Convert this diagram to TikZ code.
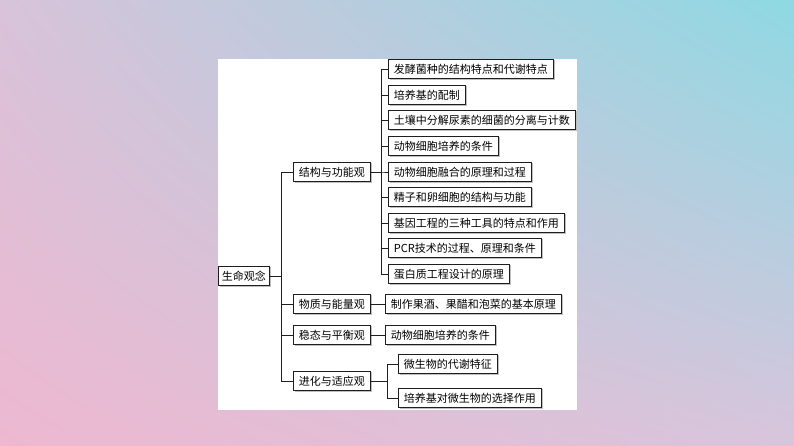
\documentclass[tikz,border=0pt]{standalone}
\usepackage{fontspec}
\setmainfont{Noto Sans CJK SC}
\usepackage{tikz}
\usetikzlibrary{positioning, shadows, shadings}
\definecolor{bgtl}{RGB}{216, 195, 218}
\definecolor{bgtr}{RGB}{142, 217, 227}
\definecolor{bgbl}{RGB}{237, 184, 208}
\definecolor{bgbr}{RGB}{216, 197, 220}
\definecolor{linecol}{RGB}{30, 30, 30}

\begin{document}
\begin{tikzpicture}[
    x=1pt, y=-1pt,
    box/.style={rectangle, draw=linecol, fill=white, line width=0.9pt, minimum height=19.5pt, inner xsep=5.5pt, inner ysep=0pt, anchor=west, font=\fontsize{11}{12}\selectfont, drop shadow={shadow xshift=1.2pt, shadow yshift=-1.2pt, fill=black!25, opacity=1}},
    rootbox/.style={box, inner xsep=3.5pt},
    topicbox/.style={box, minimum width=74pt},
    link/.style={line width=0.9pt, color=linecol}
]
    \useasboundingbox (0,0) rectangle (794,446);
    % Background
    \shade[upper left=bgtl, upper right=bgtr, lower left=bgbl, lower right=bgbr] (0,0) rectangle (794,446);
    \fill[white] (218,59) rectangle (577,410);

    % Root and topics
    \node[rootbox] (life) at (218,276) {生命观念};
    \node[topicbox] (struct) at (293,172) {结构与功能观};
    \node[topicbox] (energy) at (293,304) {物质与能量观};
    \node[topicbox] (steady) at (293,335) {稳态与平衡观};
    \node[topicbox] (evolve) at (293,381) {进化与适应观};

    % Structure and function
    \node[box] (s1) at (388,69) {发酵菌种的结构特点和代谢特点};
    \node[box] (s2) at (388,95) {培养基的配制};
    \node[box] (s3) at (388,120) {土壤中分解尿素的细菌的分离与计数};
    \node[box] (s4) at (388,146) {动物细胞培养的条件};
    \node[box] (s5) at (388,172) {动物细胞融合的原理和过程};
    \node[box] (s6) at (388,197) {精子和卵细胞的结构与功能};
    \node[box] (s7) at (388,223) {基因工程的三种工具的特点和作用};
    \node[box] (s8) at (388,248) {PCR技术的过程、原理和条件};
    \node[box] (s9) at (388,274) {蛋白质工程设计的原理};

    % Other topics
    \node[box] (e1) at (385,304) {制作果酒、果醋和泡菜的基本原理};
    \node[box] (t1) at (385,335) {动物细胞培养的条件};
    \node[box] (v1) at (398,364) {微生物的代谢特征};
    \node[box] (v2) at (398,398) {培养基对微生物的选择作用};

    % Connectors
    \foreach \t in {struct, energy, steady, evolve}
        \draw[link] (life.east) -- ++(12,0) |- (\t.west);
    \foreach \c in {s1, s2, s3, s4, s5, s6, s7, s8, s9}
        \draw[link] (struct.east) -- ++(11,0) |- (\c.west);
    \draw[link] (energy) -- (e1);
    \draw[link] (steady) -- (t1);
    \draw[link] (evolve.east) -- ++(17,0) |- (v1.west);
    \draw[link] (evolve.east) -- ++(17,0) |- (v2.west);
\end{tikzpicture}
\end{document}
